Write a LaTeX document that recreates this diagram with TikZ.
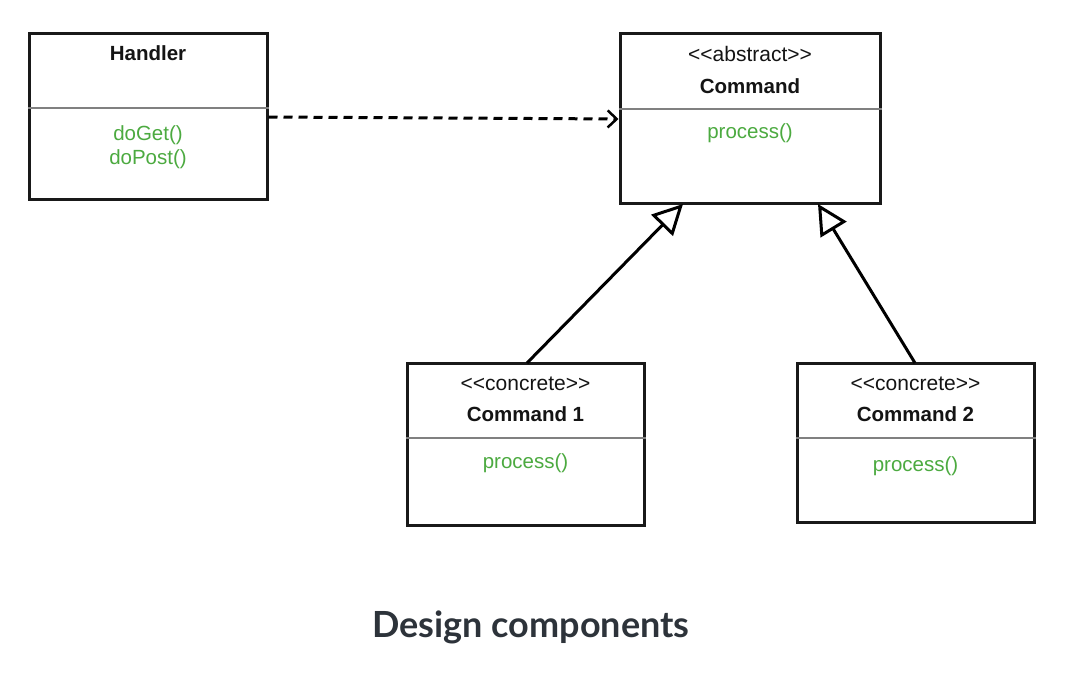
\documentclass[tikz,border=0pt]{standalone}
\usepackage{fontspec}
\setmainfont{Liberation Sans}
\newfontfamily\capfont{Lato}
\usetikzlibrary{arrows.meta}
\definecolor{umlgreen}{RGB}{76,170,64}
\definecolor{umltext}{RGB}{20,20,20}
\definecolor{capcol}{RGB}{45,51,58}
\newcommand{\umlopen}{<\kern0pt<}
\newcommand{\umlclose}{>\kern0pt>}
\begin{document}
\begin{tikzpicture}[x=1pt,y=-1pt,
  umlbox/.style={draw=black!90, line width=3pt, inner sep=0pt, fill=white},
  divider/.style={draw=black!50, line width=1.2pt},
  stereo/.style={font=\fontsize{21}{24}\selectfont, text=umltext},
  cname/.style={font=\fontsize{20.5}{24}\selectfont\bfseries, text=umltext},
  meth/.style={font=\fontsize{20.5}{23.5}\selectfont, text=umlgreen, align=center},
  dep/.style={line width=3pt, dashed, dash pattern=on 9pt off 6pt, -{Straight Barb[length=9pt,width=17pt,line width=2.5pt]}},
  gen/.style={line width=3pt, -{Triangle[open,length=30pt,width=30pt,line width=3pt]}}
]
\useasboundingbox (0,0) rectangle (1072,682);
\fill[white] (0,0) rectangle (1072,682);

% boxes
\node[umlbox, minimum width=238pt, minimum height=166pt] (handler) at (148,117) {};
\node[umlbox, minimum width=260pt, minimum height=170pt] (command) at (750,119) {};
\node[umlbox, minimum width=237pt, minimum height=162pt] (cmdone) at (525.5,444) {};
\node[umlbox, minimum width=237pt, minimum height=159pt] (cmdtwo) at (915.5,442.5) {};

% dividers
\draw[divider] (handler.west |- 0,108) -- (handler.east |- 0,108);
\draw[divider] (command.west |- 0,109) -- (command.east |- 0,109);
\draw[divider] (cmdone.west |- 0,438) -- (cmdone.east |- 0,438);
\draw[divider] (cmdtwo.west |- 0,438) -- (cmdtwo.east |- 0,438);

% texts
\node[cname] (hname) at (148,53) {Handler};
\node[meth] (hmeth) at (148,147) {doGet()\\doPost()};

\node[stereo] (cst) at (750,54) {\umlopen abstract\umlclose};
\node[cname] (cname) at (750,86) {Command};
\node[meth] (cmeth) at (750,133) {process()};

\node[stereo] (c1st) at (525.5,384) {\umlopen concrete\umlclose};
\node[cname] (c1name) at (525.5,414) {Command 1};
\node[meth] (c1meth) at (525.5,463) {process()};

\node[stereo] (c2st) at (915.5,384) {\umlopen concrete\umlclose};
\node[cname] (c2name) at (915.5,414) {Command 2};
\node[meth] (c2meth) at (915.5,466) {process()};

% connectors
\coordinate (genone) at (683,204);
\coordinate (gentwo) at (818,204);
\coordinate (fromone) at (527,363);
\coordinate (fromtwo) at (915,363);
\draw[dep] (handler.east) -- (command.west);
\draw[gen] (fromone) -- (genone);
\draw[gen] (fromtwo) -- (gentwo);

% caption
\node[font=\capfont\fontsize{36}{42}\selectfont\bfseries, text=capcol] (caption) at (531,627) {Design components};
\end{tikzpicture}
\end{document}
